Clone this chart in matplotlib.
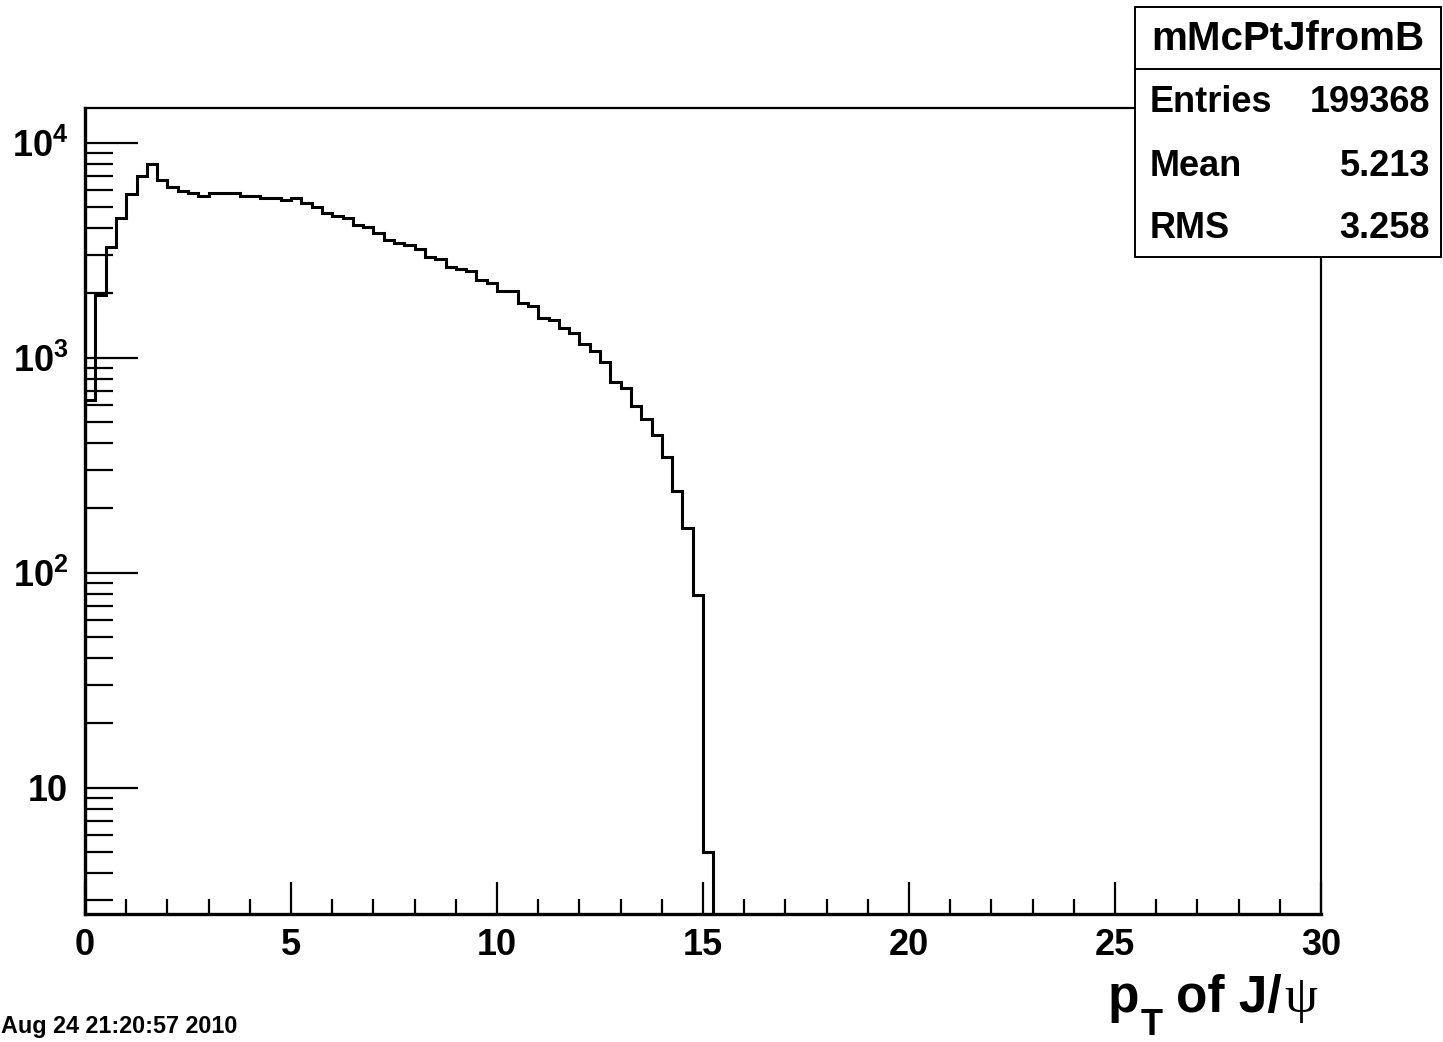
import numpy as np
import matplotlib.pyplot as plt
from matplotlib.patches import Rectangle
from matplotlib.lines import Line2D
from matplotlib.ticker import LogLocator, MultipleLocator, FuncFormatter

plt.rcParams['font.family'] = ['Liberation Sans', 'DejaVu Sans']
plt.rcParams['font.weight'] = 'bold'
plt.rcParams['mathtext.fontset'] = 'custom'
plt.rcParams['mathtext.rm'] = 'Liberation Sans:bold'
plt.rcParams['mathtext.bf'] = 'Liberation Sans:bold'
plt.rcParams['mathtext.it'] = 'Liberation Sans:bold'

# histogram mMcPtJfromB: 120 bins of 0.25 GeV/c from 0 to 30
bin_width = 0.25
n_bins = 120
counts = [636, 1957, 3273, 4467, 5772, 7000, 7960, 6706, 6220, 5960,
          5834, 5650, 5834, 5834, 5834, 5650, 5650, 5530, 5530, 5414,
          5530, 5224, 5035, 4694, 4563, 4450, 4142, 4066, 3790, 3527,
          3425, 3342, 3204, 2950, 2869, 2651, 2586, 2531, 2298, 2218,
          2042, 2042, 1803, 1734, 1533, 1504, 1374, 1299, 1154, 1078,
          952, 769, 721, 596, 517, 437, 344, 241, 161, 79,
          5] + [0] * 59

stat_title = 'mMcPtJfromB'
stat_names = ['Entries', 'Mean', 'RMS']
stat_values = ['199368', '5.213', '3.258']
date_text = 'Aug 24 21:20:57 2010'

W, H = 1443, 1042
fig = plt.figure(figsize=(W / 100, H / 100), dpi=100)
ax = fig.add_axes([85 / W, 1 - 914 / H, (1321 - 85) / W, (914 - 108) / H])

edges = np.arange(n_bins + 1) * bin_width
counts = np.array(counts, dtype=float)
nz = np.nonzero(counts)[0]
last = nz[-1] + 1
ax.stairs(counts[:last], edges[:last + 1], baseline=0.1, color='black',
          linewidth=2.2)

ax.set_yscale('log')
ax.set_xlim(0, 30)
ax.set_ylim(2.586, 14500)

ax.xaxis.set_major_locator(MultipleLocator(5))
ax.xaxis.set_minor_locator(MultipleLocator(1))
ax.yaxis.set_major_locator(LogLocator(base=10, numticks=10))
ax.yaxis.set_minor_locator(LogLocator(base=10, subs=np.arange(2, 10), numticks=20))


def ylab(v, pos):
    e = int(round(np.log10(v)))
    if e == 1:
        return '10'
    return r'$\mathbf{10^{%d}}$' % e


ax.yaxis.set_major_formatter(FuncFormatter(ylab))
ax.yaxis.set_minor_formatter(FuncFormatter(lambda v, p: ''))
ax.xaxis.set_major_formatter(FuncFormatter(lambda v, p: '%d' % v))

ax.tick_params(axis='both', which='both', direction='in', top=False,
               right=False, colors='black', width=1.6)
ax.tick_params(axis='x', which='major', length=23, labelsize=26, pad=10)
ax.tick_params(axis='x', which='minor', length=11)
ax.tick_params(axis='y', which='major', length=38, labelsize=26, pad=12)
ax.tick_params(axis='y', which='minor', length=20)
for s in ax.spines.values():
    s.set_linewidth(1.6)
ax.spines['left'].set_linewidth(2.4)
ax.spines['bottom'].set_linewidth(2.4)

# x axis title, built from pieces: p, subscript T, "of J/", psi
fig.canvas.draw()
rend = fig.canvas.get_renderer()


def place_right(x_px, y_px, s, **kw):
    t = fig.text(x_px / W, 1 - y_px / H, s, ha='right', va='baseline', **kw)
    bb = t.get_window_extent(rend)
    return bb.x0


x = place_right(1317, 1012, 'ψ', fontsize=38, fontweight='normal',
                family='Liberation Serif')
x = place_right(x - 2, 1012, 'of J/', fontsize=37, fontweight='bold')
x = place_right(x - 14, 1035, 'T', fontsize=26, fontweight='bold')
x = place_right(x - 1, 1012, 'p', fontsize=37, fontweight='bold')

# date stamp
fig.text(1 / W, 1 - 1027 / H, date_text, ha='left', va='center',
         fontsize=16.8, fontweight='bold')

# statistics box
bx0, bx1, by0, by1, bsep = 1135, 1441, 7, 257, 69
fig.add_artist(Rectangle((bx0 / W, 1 - by1 / H), (bx1 - bx0) / W,
                         (by1 - by0) / H, transform=fig.transFigure,
                         facecolor='white', edgecolor='black', linewidth=1.4,
                         zorder=10))
fig.add_artist(Line2D([bx0 / W, bx1 / W], [1 - bsep / H, 1 - bsep / H],
                      transform=fig.transFigure, color='black',
                      linewidth=1.4, zorder=11))
fig.text((bx0 + bx1) / 2 / W, 1 - 39 / H, stat_title, ha='center',
         va='center', fontsize=29, fontweight='bold', zorder=12)
row_y = [102, 166, 229]
for name, val, yy in zip(stat_names, stat_values, row_y):
    fig.text(1150 / W, 1 - yy / H, name, ha='left', va='center',
             fontsize=26, fontweight='bold', zorder=12)
    fig.text(1430 / W, 1 - yy / H, val, ha='right', va='center',
             fontsize=26, fontweight='bold', zorder=12)

fig.savefig('out.png', dpi=100)
